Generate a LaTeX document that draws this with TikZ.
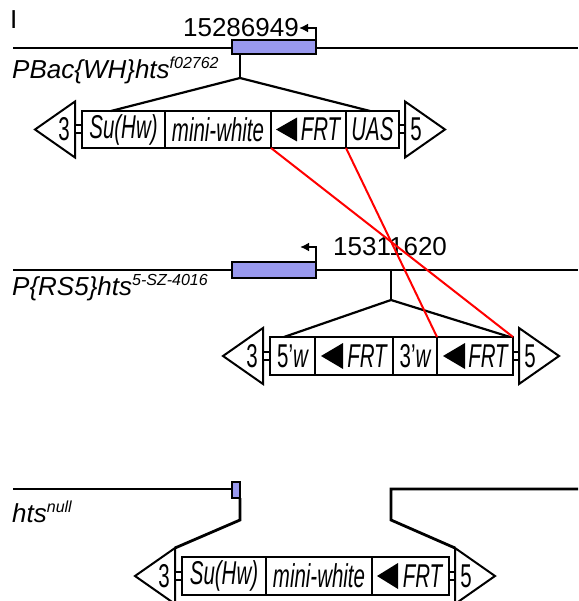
\documentclass[tikz,border=0pt]{standalone}
\usepackage{fontspec}
\setmainfont{Liberation Sans}
\usepackage{graphicx}
\usepackage{tikz}
\usetikzlibrary{arrows, arrows.meta, positioning, calc}

\definecolor{exonblue}{RGB}{153,153,238}
\newcommand{\narrowtxt}[1]{\scalebox{0.62}[1]{#1}}
\newcommand{\allelesup}[1]{\raisebox{10pt}{\fontsize{16}{18}\selectfont #1}}

\begin{document}
\begin{tikzpicture}[
  x=1pt, y=-1pt,
  chrom/.style={line width=2.8pt},
  exon/.style={rectangle, draw=black, line width=2pt, fill=exonblue, inner sep=0pt, outer sep=0pt},
  seg/.style={rectangle, draw=black, line width=2pt, fill=white, minimum height=37pt,
              inner sep=0pt, outer sep=0pt, font=\fontsize{33}{36}\selectfont\itshape},
  endtip/.style={draw=black, line width=2pt, fill=white},
  endlab/.style={inner sep=0pt, font=\fontsize{33}{36}\selectfont},
  arm/.style={line width=2.2pt},
  frtmark/.style={fill=black},
  promoter/.style={-{Latex[length=9pt, width=9pt]}, line width=2pt},
  flip/.style={red, line width=2pt},
  gname/.style={anchor=west, inner sep=0pt, font=\fontsize{26}{30}\selectfont\itshape},
  coordlab/.style={inner sep=0pt, font=\fontsize{26}{30}\selectfont}
]
\useasboundingbox (0,0) rectangle (578,601);

% Panel label
\node[coordlab, anchor=west] (panel) at (10,20) {I};

% PBac insertion allele
\draw[chrom] (13,48) -- (578,48);
\node[exon, minimum width=84pt, minimum height=14pt, anchor=north west] (exon1) at (232,40) {};
\draw[promoter] (exon1.north east) -- ++(0,-12) -- ++(-17,0) coordinate (tss1);
\node[coordlab, anchor=east] (pos1) at (tss1) {15286949};
\node[gname] (allele1) at (12,70) {PBac\{WH\}hts\allelesup{f02762}};

\node[seg, minimum width=83pt, anchor=north west] (suhw1) at (82,111) {\narrowtxt{Su(Hw)}};
\node[seg, minimum width=106pt, right=0pt of suhw1] (mw1) {\narrowtxt{mini-white}};
\node[seg, minimum width=75pt, right=0pt of mw1] (frt1) {\hspace*{24pt}\narrowtxt{FRT}};
\node[seg, minimum width=53pt, right=0pt of frt1] (uas1) {\narrowtxt{UAS}};
\fill[frtmark] ($(frt1.west)+(5,0)$) -- ++(21,-12) -- ++(0,24) -- cycle;

\draw[endtip] ($(suhw1.west)+(-7,-28)$) -- ++(-40,28) -- ++(40,28) -- cycle;
\draw[endtip] ($(suhw1.west)+(-7,-4)$) rectangle ($(suhw1.west)+(0,4)$);
\node[endlab] (l3a) at ($(suhw1.west)+(-18,0)$) {\narrowtxt{3}};
\draw[endtip] ($(uas1.east)+(6,-28)$) -- ++(40,28) -- ++(-40,28) -- cycle;
\draw[endtip] ($(uas1.east)+(0,-4)$) rectangle ($(uas1.east)+(6,4)$);
\node[endlab] (l5a) at ($(uas1.east)+(17,0)$) {\narrowtxt{5}};

\coordinate (ins1) at (240,78);
\draw[arm] (exon1.south west -| ins1) -- (ins1);
\draw[arm] ($(suhw1.north west)+(29,0)$) -- (ins1) -- ($(uas1.north west)+(24,0)$);

% P{RS5} insertion allele
\draw[chrom] (13,270) -- (578,270);
\node[exon, minimum width=84pt, minimum height=16pt, anchor=north west] (exon2) at (232,262) {};
\draw[promoter] (exon2.north east) -- ++(0,-15) -- ++(-16,0);
\node[coordlab, anchor=west] (pos2) at (333,247) {15311620};
\node[gname] (allele2) at (12,288) {P\{RS5\}hts\allelesup{5-SZ-4016}};

\node[seg, minimum width=45pt, minimum height=38pt, anchor=north west] (w5) at (270,337) {\narrowtxt{\upshape 5'\itshape w}};
\node[seg, minimum width=78pt, minimum height=38pt, right=0pt of w5] (frt2) {\hspace*{26pt}\narrowtxt{FRT}};
\node[seg, minimum width=44pt, minimum height=38pt, right=0pt of frt2] (w3) {\narrowtxt{\upshape 3'\itshape w}};
\node[seg, minimum width=76pt, minimum height=38pt, right=0pt of w3] (frt3) {\hspace*{26pt}\narrowtxt{FRT}};
\fill[frtmark] ($(frt2.west)+(6,0)$) -- ++(22,-13) -- ++(0,26) -- cycle;
\fill[frtmark] ($(frt3.west)+(6,0)$) -- ++(22,-13) -- ++(0,26) -- cycle;

\draw[endtip] ($(w5.west)+(-7,-28)$) -- ++(-40,28) -- ++(40,28) -- cycle;
\draw[endtip] ($(w5.west)+(-7,-4)$) rectangle ($(w5.west)+(0,4)$);
\node[endlab] (l3b) at ($(w5.west)+(-18,0)$) {\narrowtxt{3}};
\draw[endtip] ($(frt3.east)+(6,-28)$) -- ++(40,28) -- ++(-40,28) -- cycle;
\draw[endtip] ($(frt3.east)+(0,-4)$) rectangle ($(frt3.east)+(6,4)$);
\node[endlab] (l5b) at ($(frt3.east)+(17,0)$) {\narrowtxt{5}};

\coordinate (ins2) at (391,300);
\draw[arm] (391,270) -- (ins2);
\draw[arm] ($(w5.north west)+(14,0)$) -- (ins2) -- ($(frt3.north east)+(-3,0)$);

% FLP recombination between FRT sites
\draw[flip] (frt1.south west) -- (frt3.north east);
\draw[flip] (uas1.south west) -- (w3.north east);

% Deletion allele
\draw[chrom] (13,489) -- (232,489);
\node[exon, minimum width=8pt, minimum height=16pt, anchor=north west] (exon3) at (232,482) {};
\node[gname] (allele3) at (12,512) {hts\allelesup{null}};

\node[seg, minimum width=84pt, minimum height=38pt, anchor=north west] (suhw3) at (182,557) {\narrowtxt{Su(Hw)}};
\node[seg, minimum width=106pt, minimum height=38pt, right=0pt of suhw3] (mw3) {\narrowtxt{mini-white}};
\node[seg, minimum width=77pt, minimum height=38pt, right=0pt of mw3] (frt5) {\hspace*{24pt}\narrowtxt{FRT}};
\fill[frtmark] ($(frt5.west)+(5,0)$) -- ++(21,-13) -- ++(0,26) -- cycle;

\draw[endtip] ($(suhw3.west)+(-7,-28)$) -- ++(-40,28) -- ++(40,28) -- cycle;
\draw[endtip] ($(suhw3.west)+(-7,-4)$) rectangle ($(suhw3.west)+(0,4)$);
\node[endlab] (l3c) at ($(suhw3.west)+(-18,0)$) {\narrowtxt{3}};
\draw[endtip] ($(frt5.east)+(6,-28)$) -- ++(40,28) -- ++(-40,28) -- cycle;
\draw[endtip] ($(frt5.east)+(0,-4)$) rectangle ($(frt5.east)+(6,4)$);
\node[endlab] (l5c) at ($(frt5.east)+(17,0)$) {\narrowtxt{5}};

\draw[chrom] (exon3.south east) -- ++(0,22) -- ($(suhw3.west)+(-7,-28)$);
\draw[chrom] (578,489) -- (391,489) -- (391,520) -- ($(frt5.east)+(6,-28)$);
\end{tikzpicture}
\end{document}
